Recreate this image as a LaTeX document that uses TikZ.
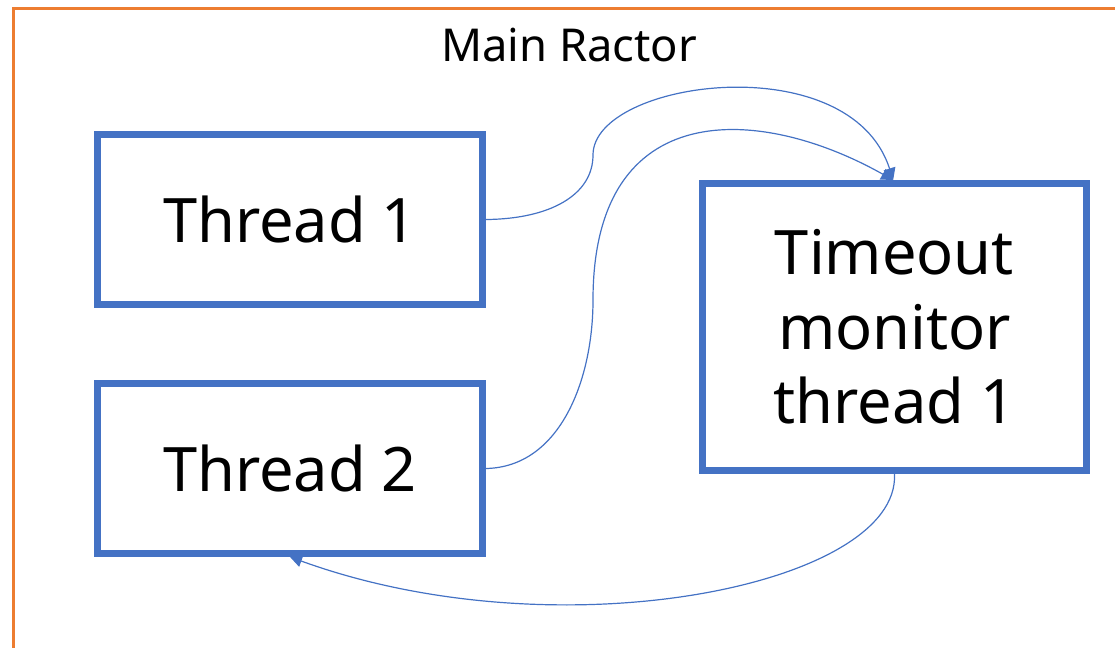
\documentclass[tikz,border=0pt]{standalone}
\usepackage{fontspec}
\setmainfont{Noto Sans}
\usetikzlibrary{arrows.meta}
\definecolor{boxblue}{HTML}{4472C4}
\definecolor{frameorange}{HTML}{ED7D31}
\begin{document}
\begin{tikzpicture}[x=0.75pt,y=-0.75pt,
  box/.style={draw=boxblue,line width=5.2pt,inner sep=0pt,align=center,font=\fontsize{46}{56}\selectfont},
  conn/.style={draw=boxblue,line width=0.9pt,-{Triangle[length=9pt,width=9pt]}}]
\useasboundingbox (0,0) rectangle (1115,647);
\draw[frameorange,line width=2.2pt] (13.5,8.5) rectangle (1140,680);
\node (title) at (569,45) {\fontsize{34}{40}\selectfont Main Ractor};
\node[box,minimum width=385pt*0.75,minimum height=170pt*0.75] (t1) at (290,219.5) {Thread 1};
\node[box,minimum width=385pt*0.75,minimum height=170pt*0.75] (t2) at (290,468.5) {Thread 2};
\node[box,minimum width=384pt*0.75,minimum height=287pt*0.75] (tm) at (894.5,327) {Timeout\\monitor\\thread 1};
\coordinate (a1) at (593,155);
\coordinate (a2) at (593,300);
\draw[conn] (t1.east) .. controls (550,219) and (593,195) .. (a1) .. controls (593,80) and (850,45) .. ([xshift=-1pt]tm.north);
\draw[conn] (t2.east) .. controls (560,467) and (593,380) .. (a2) .. controls (593,95) and (760,105) .. ([xshift=-1pt]tm.north);
\draw[conn] (tm.south) .. controls (900,585) and (560,655) .. (t2.south);
\end{tikzpicture}
\end{document}
